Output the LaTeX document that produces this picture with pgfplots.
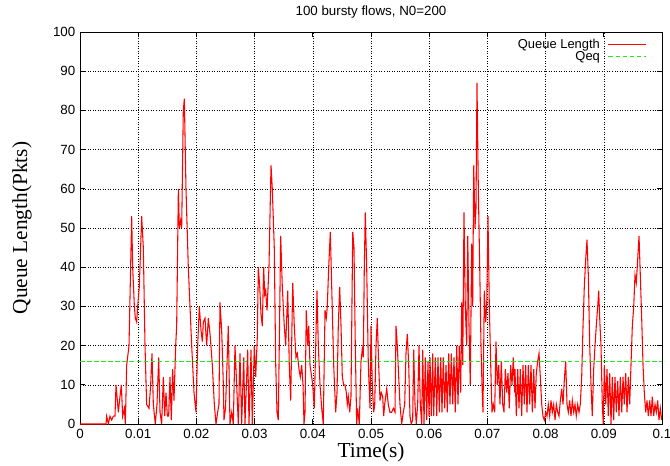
\documentclass[border=0pt]{standalone}
\usepackage{pgfplots}
\pgfplotsset{compat=1.18}
\usepackage{fontspec}
\setmainfont{Liberation Sans}
\newfontfamily\seriffont{Liberation Serif}
\definecolor{qred}{RGB}{255,0,0}
\definecolor{qgreen}{RGB}{30,235,30}
\begin{document}
\begin{tikzpicture}
\begin{axis}[
  at={(0,0)}, anchor=south west,
  scale only axis, width=436.5pt, height=294pt,
  xmin=0, xmax=0.1, ymin=0, ymax=100,
  xtick={0,0.01,0.02,0.03,0.04,0.05,0.06,0.07,0.08,0.09,0.1},
  xticklabels={0,0.01,0.02,0.03,0.04,0.05,0.06,0.07,0.08,0.09,0.1},
  ytick={0,10,20,30,40,50,60,70,80,90,100},
  yticklabels={0,10,20,30,40,50,60,70,80,90,100},
  tick label style={font=\fontsize{10}{12}\selectfont},
  grid=major,
  major grid style={black, line width=0.45pt, dash pattern=on 0.6pt off 1.3pt},
  tick align=inside, major tick length=4pt,
  tick style={black, line width=0.5pt},
  axis line style={black, line width=0.7pt},
  title={100 bursty flows, N0=200},
  title style={font=\fontsize{10}{12}\selectfont, at={(axis description cs:0.5,1)}, anchor=center, yshift=9pt},
  xlabel={\seriffont Time(s)},
  xlabel style={font=\fontsize{16}{18}\selectfont, at={(axis description cs:0.5,-0.0714)}, anchor=center},
  ylabel={\seriffont Queue Length(Pkts)},
  ylabel style={font=\fontsize{16}{18}\selectfont, at={(axis description cs:-0.0997,0.5)}, anchor=center},
  legend style={draw=none, fill=none, at={(axis description cs:0.9737,0.99)}, anchor=north east,
    font=\fontsize{9.7}{11}\selectfont, row sep=0pt, column sep=6pt, inner sep=0pt,
    nodes={inner sep=0pt, text height=9pt, text depth=0pt}},
  legend cell align=right,
  legend plot pos=right,
  legend image code/.code={\draw[#1] (0pt,-2pt) -- (28pt,-2pt);},
]
\addplot[qred, line width=0.8pt] coordinates {
(0,0) (0.00447,0) (0.00458,2) (0.00487,0) (0.00515,2) (0.00544,1) (0.00573,2) (0.00601,2) (0.00619,10) (0.00659,3) (0.00687,7) (0.00710,10) (0.00733,2) (0.00762,4) (0.00779,0) (0.00802,15) (0.00842,20) (0.00888,53) (0.00905,40) (0.00934,30) (0.00951,27) (0.00974,26) (0.00991,30) (0.01019,35) (0.01060,53) (0.01088,45) (0.01117,20) (0.01145,5) (0.01186,4) (0.01214,10) (0.01237,18) (0.01260,5) (0.01294,0) (0.01323,5) (0.01352,17) (0.01375,3) (0.01403,0) (0.01432,12) (0.01455,2) (0.01478,8) (0.01501,2) (0.01523,2) (0.01546,12) (0.01569,1) (0.01592,14) (0.01615,6) (0.01644,20) (0.01661,25) (0.01690,60) (0.01707,50) (0.01730,52) (0.01747,50) (0.01775,80) (0.01793,83) (0.01821,60) (0.01861,40) (0.01919,20) (0.01959,8) (0.01993,3) (0.02022,20) (0.02050,30) (0.02079,24) (0.02102,21) (0.02119,26) (0.02148,27) (0.02176,20) (0.02205,27) (0.02234,23) (0.02274,15) (0.02308,5) (0.02337,0) (0.02365,3) (0.02388,5) (0.02405,31) (0.02434,24) (0.02463,10) (0.02474,1) (0.02500,4)
(0.02548,25) (0.02577,0) (0.02607,3) (0.02634,0) (0.02663,20) (0.02692,10) (0.02720,0) (0.02749,18) (0.02778,0) (0.02813,17) (0.02835,0) (0.02881,19) (0.02904,0) (0.02938,19) (0.02960,0) (0.02995,20) (0.03019,12) (0.03046,22) (0.03064,40) (0.03088,35) (0.03110,28) (0.03132,25) (0.03156,40) (0.03174,33) (0.03191,34) (0.03213,29) (0.03247,40) (0.03282,66) (0.03304,60) (0.03338,45) (0.03363,15) (0.03385,3) (0.03407,1) (0.03424,20) (0.03448,48) (0.03476,35) (0.03510,25) (0.03534,20) (0.03569,34) (0.03596,15) (0.03620,6) (0.03655,36) (0.03682,25) (0.03711,17) (0.03734,18) (0.03763,14) (0.03785,12) (0.03809,15) (0.03832,10) (0.03849,0) (0.03866,3) (0.03888,29) (0.03912,20) (0.03930,25) (0.03952,15) (0.03981,12) (0.03998,10) (0.04026,4) (0.04050,20) (0.04072,34) (0.04095,20) (0.04124,10) (0.04153,4) (0.04180,0) (0.04210,29) (0.04232,27) (0.04249,30) (0.04273,40) (0.04301,49) (0.04325,35) (0.04359,15) (0.04393,3) (0.04416,8) (0.04438,25) (0.04462,35) (0.04485,25) (0.04507,12) (0.04531,10) (0.04553,10) (0.04576,8) (0.04593,5) (0.04610,7) (0.04634,3) (0.04656,7) (0.04686,49) (0.04708,45) (0.04730,20) (0.04754,0) (0.04771,4) (0.04799,0) (0.04828,16) (0.04850,19) (0.04868,17) (0.04885,40) (0.04902,54) (0.04926,40) (0.04954,15) (0.04983,4) (0.05000,25)
(0.05022,10) (0.05046,3) (0.05064,5) (0.05086,20) (0.05108,27) (0.05132,15) (0.05155,6) (0.05177,8) (0.05201,7) (0.05218,2) (0.05235,5) (0.05270,9) (0.05297,5) (0.05326,3) (0.05356,3) (0.05383,4) (0.05412,3) (0.05430,25) (0.05452,20) (0.05476,12) (0.05498,5) (0.05527,0) (0.05555,3) (0.05579,5) (0.05601,18) (0.05624,23) (0.05648,15) (0.05670,2) (0.05692,0) (0.05716,1) (0.05734,19) (0.05756,5) (0.05778,0) (0.05802,5) (0.05825,20) (0.05847,5) (0.05871,0) (0.05888,19) (0.05911,0) (0.05933,17) (0.05957,1) (0.05979,16) (0.05997,2) (0.06014,17) (0.06036,2) (0.06060,18) (0.06077,2) (0.06105,17) (0.06129,2) (0.06151,17) (0.06174,3) (0.06198,17) (0.06220,3) (0.06242,17) (0.06266,4) (0.06289,15) (0.06311,3) (0.06335,18) (0.06357,5) (0.06380,18) (0.06404,5) (0.06426,17) (0.06448,3) (0.06473,20) (0.06495,5) (0.06517,20) (0.06541,8) (0.06558,31) (0.06576,15) (0.06598,54) (0.06620,30) (0.06644,20) (0.06662,48) (0.06684,25) (0.06706,10) (0.06730,46) (0.06747,30) (0.06765,66) (0.06787,50) (0.06804,55) (0.06821,87) (0.06844,60) (0.06868,40) (0.06890,20) (0.06907,10) (0.06924,3) (0.06947,34) (0.06971,26) (0.06988,30) (0.07010,53) (0.07033,30) (0.07057,15) (0.07079,3) (0.07101,5) (0.07125,3) (0.07148,21) (0.07170,10) (0.07194,15) (0.07216,5) (0.07239,16) (0.07263,5) (0.07285,3) (0.07308,14) (0.07332,8) (0.07354,13) (0.07376,4) (0.07400,15) (0.07423,10) (0.07445,17) (0.07469,8)
(0.07474,14) (0.07497,2) (0.07521,14) (0.07543,4) (0.07565,14) (0.07589,2) (0.07612,15) (0.07634,5) (0.07658,15) (0.07680,3) (0.07703,15) (0.07727,5) (0.07749,15) (0.07772,3) (0.07796,14) (0.07818,4) (0.07840,13) (0.07864,16) (0.07887,18) (0.07909,12) (0.07933,5) (0.07955,2) (0.07978,1) (0.08002,3) (0.08024,2) (0.08046,5) (0.08070,2) (0.08093,6) (0.08115,3) (0.08139,5) (0.08162,1) (0.08184,5) (0.08208,3) (0.08230,2) (0.08253,6) (0.08277,9) (0.08299,5) (0.08321,11) (0.08345,16) (0.08368,5) (0.08390,3) (0.08414,6) (0.08436,2) (0.08459,6) (0.08483,3) (0.08505,5) (0.08527,2) (0.08552,5) (0.08574,3) (0.08596,5) (0.08620,12) (0.08643,25) (0.08665,35) (0.08689,42) (0.08711,47) (0.08734,38) (0.08758,20) (0.08780,10) (0.08802,2) (0.08826,14) (0.08849,20) (0.08871,25) (0.08895,30) (0.08912,34) (0.08935,25) (0.08952,20) (0.08974,5) (0.08991,0) (0.09009,15) (0.09033,5) (0.09055,14) (0.09077,2) (0.09101,13) (0.09124,0) (0.09146,12) (0.09170,1) (0.09192,12) (0.09215,3) (0.09239,11) (0.09261,2) (0.09284,12) (0.09308,3) (0.09330,12) (0.09352,5) (0.09376,13) (0.09399,3) (0.09421,12) (0.09445,5) (0.09467,15) (0.09490,25) (0.09514,30) (0.09536,38) (0.09558,36) (0.09582,42) (0.09605,48) (0.09627,38) (0.09651,27) (0.09674,15) (0.09696,8) (0.09720,3) (0.09742,6) (0.09765,2) (0.09789,6) (0.09811,2) (0.09833,7) (0.09857,2) (0.09880,5) (0.09902,3) (0.09926,6) (0.09948,1) (0.09971,4) (0.09995,1)
};
\addlegendentry{Queue Length}
\addplot[qgreen, line width=0.9pt, dash pattern=on 3.5pt off 1.8pt] coordinates {(0,16) (0.1,16)};
\addlegendentry{Qeq}
\end{axis}
\pgfresetboundingbox
\path[use as bounding box] (-60pt,-30.75pt) rectangle (442.5pt,318pt);
\end{tikzpicture}
\end{document}
